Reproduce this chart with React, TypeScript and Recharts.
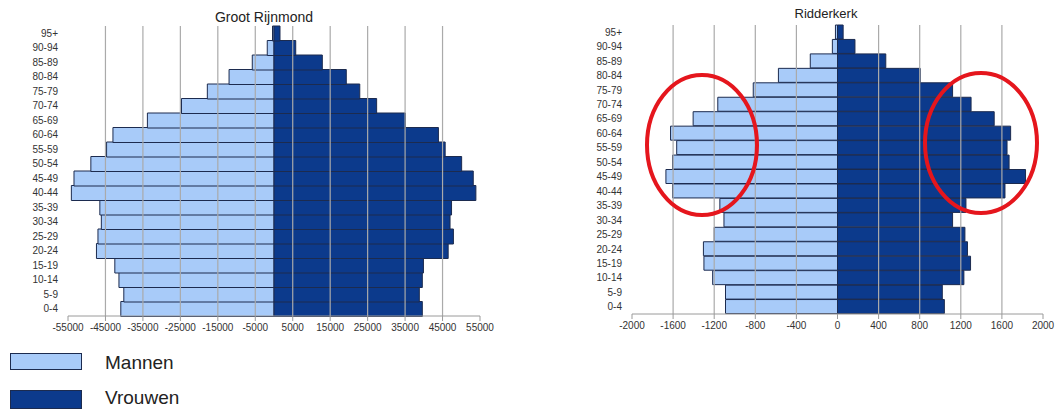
import React from "react";
import { BarChart, Bar, XAxis, YAxis, ReferenceLine } from "recharts";

// age groups, bottom to top
const AGE_GROUPS = [
  "0-4", "5-9", "10-14", "15-19", "20-24", "25-29", "30-34", "35-39", "40-44", "45-49",
  "50-54", "55-59", "60-64", "65-69", "70-74", "75-79", "80-84", "85-89", "90-94", "95+",
];

const RIJNMOND_MANNEN = [
  40900, 40100, 41400, 42500, 47400, 47000, 46100, 46500, 54100, 53400,
  48900, 44700, 43000, 33800, 24700, 17800, 12000, 5800, 1800, 400,
];
const RIJNMOND_VROUWEN = [
  39600, 38800, 39600, 39900, 46500, 47900, 47000, 47400, 53900, 53200,
  50100, 45700, 43900, 35100, 27400, 22900, 19300, 12900, 5800, 1600,
];
const RIJNMOND_TICKS = [-55000, -45000, -35000, -25000, -15000, -5000, 5000, 15000, 25000, 35000, 45000, 55000];

const RIDDERKERK_MANNEN = [
  1090, 1090, 1215, 1300, 1305, 1200, 1105, 1145, 1605, 1670,
  1605, 1565, 1625, 1405, 1165, 820, 575, 265, 50, 20,
];
const RIDDERKERK_VROUWEN = [
  1040, 1020, 1230, 1295, 1265, 1240, 1120, 1250, 1630, 1830,
  1670, 1650, 1685, 1525, 1300, 1120, 805, 470, 170, 55,
];
const RIDDERKERK_TICKS = [-2000, -1600, -1200, -800, -400, 0, 400, 800, 1200, 1600, 2000];

const MAN_COLOR = "#a8cbf9";
const VROUW_COLOR = "#0c3a8c";
const EDGE = "#1c2b4f";
const FONT = "'Liberation Sans', Arial, sans-serif";

interface PyramidProps {
  title: string;
  titleSize: number;
  mannen: number[];
  vrouwen: number[];
  ticks: number[];
  left: number;
  width: number;
  height: number;
  top: number;
  yWidth: number;
  right: number;
  titleX: number;
  titleY: number;
}

function Pyramid(p: PyramidProps) {
  const data = AGE_GROUPS.map((age, i) => ({
    age,
    mannen: -p.mannen[i],
    vrouwen: p.vrouwen[i],
  }));
  const lo = p.ticks[0];
  const hi = p.ticks[p.ticks.length - 1];
  const grid = p.ticks.filter((t) => t !== lo && t !== hi && t !== 0);

  return (
    <div style={{ position: "absolute", left: p.left, top: 0, width: p.width, height: p.height }}>
      <div
        style={{
          position: "absolute",
          left: p.titleX - p.left - 100,
          top: p.titleY,
          width: 200,
          textAlign: "center",
          fontSize: p.titleSize,
          color: "#222",
        }}
      >
        {p.title}
      </div>
      <BarChart
        width={p.width}
        height={p.height}
        data={data}
        layout="vertical"
        stackOffset="sign"
        barCategoryGap={0}
        barGap={0}
        margin={{ top: p.top, right: p.right, bottom: 0, left: 0 }}
      >
        {grid.map((g) => (
          <ReferenceLine key={g} x={g} stroke="#aaaaaa" strokeWidth={1.2} />
        ))}
        <XAxis
          type="number"
          domain={[lo, hi]}
          ticks={p.ticks}
          allowDataOverflow
          height={24}
          stroke="#9a9a9a"
          tick={{ fill: "#333", fontSize: 10 }}
          tickSize={5}
          tickMargin={3}
        />
        <YAxis
          type="category"
          dataKey="age"
          reversed
          interval={0}
          width={p.yWidth}
          axisLine={false}
          tickLine={false}
          tickSize={0}
          tickMargin={10}
          tick={{ fill: "#333", fontSize: 10 }}
        />
        <Bar dataKey="mannen" stackId="a" fill={MAN_COLOR} stroke={EDGE} strokeWidth={1} isAnimationActive={false} />
        <Bar dataKey="vrouwen" stackId="a" fill={VROUW_COLOR} stroke={EDGE} strokeWidth={1} isAnimationActive={false} />
      </BarChart>
    </div>
  );
}

export default function App() {
  return (
    <div
      style={{
        position: "absolute",
        left: 0,
        top: 0,
        width: 1056,
        height: 412,
        background: "#fff",
        fontFamily: FONT,
        overflow: "hidden",
      }}
    >
      <Pyramid
        title="Groot Rijnmond"
        titleSize={14}
        mannen={RIJNMOND_MANNEN}
        vrouwen={RIJNMOND_VROUWEN}
        ticks={RIJNMOND_TICKS}
        left={0}
        width={500}
        height={340}
        top={26}
        yWidth={68}
        right={20}
        titleX={264}
        titleY={9}
      />
      <Pyramid
        title="Ridderkerk"
        titleSize={13}
        mannen={RIDDERKERK_MANNEN}
        vrouwen={RIDDERKERK_VROUWEN}
        ticks={RIDDERKERK_TICKS}
        left={570}
        width={486}
        height={338}
        top={25}
        yWidth={62}
        right={13}
        titleX={826}
        titleY={6}
      />

      {/* red annotation circles */}
      <svg width={1056} height={412} style={{ position: "absolute", left: 0, top: 0, pointerEvents: "none" }}>
        <ellipse cx={702} cy={145} rx={55} ry={70} fill="none" stroke="#e5161d" strokeWidth={4} />
        <ellipse cx={981} cy={143} rx={56} ry={70} fill="none" stroke="#e5161d" strokeWidth={4} />
      </svg>

      {/* legend */}
      <div style={{ position: "absolute", left: 10, top: 353, width: 72, height: 17, background: MAN_COLOR, border: `1px solid ${EDGE}`, boxSizing: "border-box" }} />
      <div style={{ position: "absolute", left: 105, top: 352, fontSize: 19, color: "#222" }}>Mannen</div>
      <div style={{ position: "absolute", left: 10, top: 390, width: 72, height: 19, background: VROUW_COLOR, border: `1px solid ${EDGE}`, boxSizing: "border-box" }} />
      <div style={{ position: "absolute", left: 105, top: 387, fontSize: 19, color: "#222" }}>Vrouwen</div>
    </div>
  );
}
